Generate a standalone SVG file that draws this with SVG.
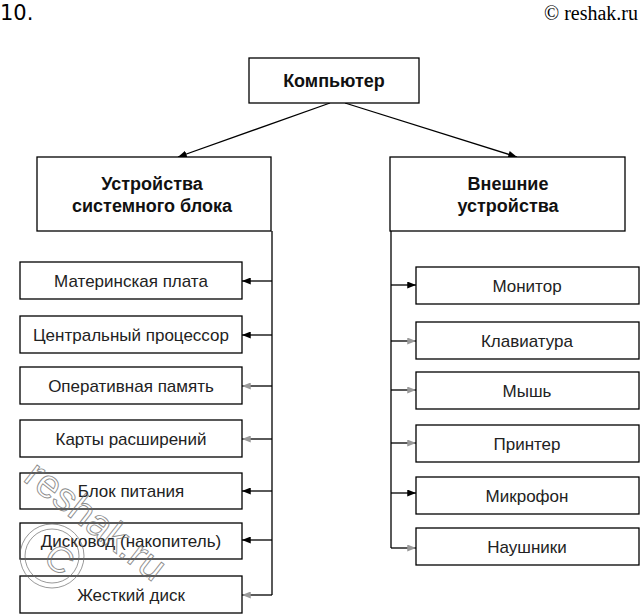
<svg xmlns="http://www.w3.org/2000/svg" width="643" height="615" viewBox="0 0 643 615">
<style>
.box{fill:#fff;stroke:#000;stroke-width:1.3}
.t{font-family:"Liberation Sans",Arial,sans-serif;font-size:17px;fill:#222;text-anchor:middle}
.b{font-family:"Liberation Sans",Arial,sans-serif;font-size:18px;font-weight:bold;fill:#111;text-anchor:middle}
.ln{stroke:#000;stroke-width:1.3;fill:none}
.wm{font-family:"Liberation Sans",Arial,sans-serif;fill:none;stroke:#666;stroke-width:0.9;opacity:0.75}
</style>
<defs>
<marker id="ah" viewBox="0 0 10 8" refX="10" refY="4" markerWidth="9" markerHeight="7" markerUnits="userSpaceOnUse" orient="auto"><path d="M0,0 L10,4 L0,8 z" fill="#000"/></marker>
<marker id="ag" viewBox="0 0 10 8" refX="10" refY="4" markerWidth="9" markerHeight="7" markerUnits="userSpaceOnUse" orient="auto"><path d="M0,0 L10,4 L0,8 z" fill="#999"/></marker>
</defs>
<rect width="643" height="615" fill="#fff"/>
<text x="0" y="20" font-family="DejaVu Sans,sans-serif" font-size="21" fill="#000">10.</text>
<text x="638" y="20" font-family="Liberation Serif,serif" font-size="20" fill="#000" text-anchor="end">© reshak.ru</text>

<g id="connectors">
<line class="ln" x1="330" y1="103" x2="178" y2="157" marker-end="url(#ah)"/>
<line class="ln" x1="345" y1="103" x2="517" y2="157" marker-end="url(#ah)"/>
<line class="ln" x1="272" y1="231" x2="272" y2="595"/>
<line class="ln" x1="272" y1="281" x2="242" y2="281" marker-end="url(#ah)"/>
<line class="ln" x1="272" y1="335" x2="242" y2="335" marker-end="url(#ah)"/>
<line class="ln" x1="272" y1="386" x2="242" y2="386" marker-end="url(#ag)"/>
<line class="ln" x1="272" y1="439" x2="242" y2="439" marker-end="url(#ag)"/>
<line class="ln" x1="272" y1="491" x2="242" y2="491" marker-end="url(#ah)"/>
<line class="ln" x1="272" y1="540" x2="242" y2="540" marker-end="url(#ah)"/>
<line class="ln" x1="272" y1="595" x2="242" y2="595" marker-end="url(#ag)"/>
<line class="ln" x1="391" y1="231" x2="391" y2="548"/>
<line class="ln" x1="391" y1="285" x2="416" y2="285" marker-end="url(#ah)"/>
<line class="ln" x1="391" y1="341" x2="416" y2="341" marker-end="url(#ag)"/>
<line class="ln" x1="391" y1="390" x2="416" y2="390" marker-end="url(#ag)"/>
<line class="ln" x1="391" y1="443" x2="416" y2="443" marker-end="url(#ag)"/>
<line class="ln" x1="391" y1="493" x2="416" y2="493" marker-end="url(#ah)"/>
<line class="ln" x1="391" y1="548" x2="416" y2="548" marker-end="url(#ag)"/>
</g>

<g id="computer"><rect class="box" x="249" y="58" width="170" height="45"/><text class="b" x="334" y="87">Компьютер</text></g>
<g id="system"><rect class="box" x="37" y="157" width="234" height="74"/><text class="b" x="152" y="190">Устройства</text><text class="b" x="152" y="212">системного блока</text></g>
<g id="external"><rect class="box" x="390" y="157" width="235" height="74"/><text class="b" x="508" y="190">Внешние</text><text class="b" x="508" y="212">устройства</text></g>

<g id="motherboard"><rect class="box" x="20" y="262" width="222" height="37"/><text class="t" x="131" y="287">Материнская плата</text></g>
<g id="cpu"><rect class="box" x="20" y="316" width="222" height="37"/><text class="t" x="131" y="341">Центральный процессор</text></g>
<g id="ram"><rect class="box" x="20" y="367" width="222" height="37"/><text class="t" x="131" y="392">Оперативная память</text></g>
<g id="cards"><rect class="box" x="20" y="420" width="222" height="37"/><text class="t" x="131" y="445">Карты расширений</text></g>
<g id="psu"><rect class="box" x="20" y="473" width="222" height="36"/><text class="t" x="131" y="497">Блок питания</text></g>
<g id="drive"><rect class="box" x="20" y="523" width="222" height="36"/><text class="t" x="131" y="547">Дисковод (накопитель)</text></g>
<g id="hdd"><rect class="box" x="20" y="576" width="222" height="37"/><text class="t" x="131" y="601">Жесткий диск</text></g>

<g id="monitor"><rect class="box" x="416" y="267" width="223" height="37"/><text class="t" x="527" y="292">Монитор</text></g>
<g id="keyboard"><rect class="box" x="416" y="322" width="223" height="37"/><text class="t" x="527" y="347">Клавиатура</text></g>
<g id="mouse"><rect class="box" x="416" y="372" width="223" height="37"/><text class="t" x="527" y="397">Мышь</text></g>
<g id="printer"><rect class="box" x="416" y="425" width="223" height="37"/><text class="t" x="527" y="450">Принтер</text></g>
<g id="mic"><rect class="box" x="416" y="477" width="223" height="37"/><text class="t" x="527" y="502">Микрофон</text></g>
<g id="headphones"><rect class="box" x="416" y="528" width="223" height="37"/><text class="t" x="527" y="553">Наушники</text></g>

<g id="watermark">
<text class="wm" font-size="40" transform="translate(22,480) rotate(38)">reshak.ru</text>
<circle cx="52" cy="556" r="32" fill="none" stroke="#666" stroke-width="0.9" opacity="0.75"/>
<circle cx="52" cy="556" r="27" fill="none" stroke="#666" stroke-width="0.9" opacity="0.75"/>
<text class="wm" font-size="36" text-anchor="middle" transform="translate(52,569) rotate(38)">C</text>
</g>
</svg>
